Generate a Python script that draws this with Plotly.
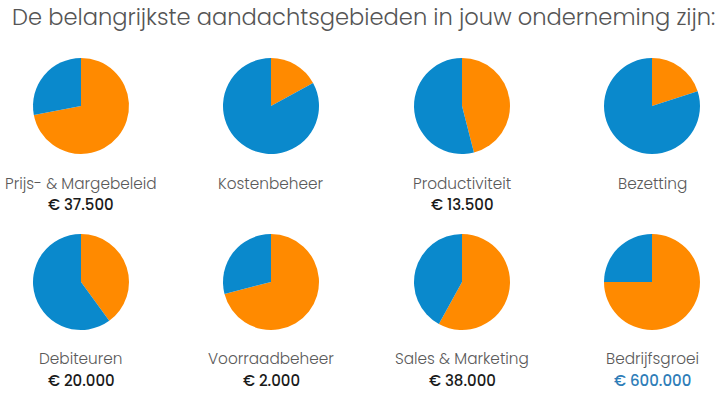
import plotly.graph_objects as go

title_text = "De belangrijkste aandachtsgebieden in jouw onderneming zijn:"
categories = ["Prijs- & Margebeleid", "Kostenbeheer", "Productiviteit", "Bezetting",
              "Debiteuren", "Voorraadbeheer", "Sales & Marketing", "Bedrijfsgroei"]
amounts = ["€ 37.500", "", "€ 13.500", "",
           "€ 20.000", "€ 2.000", "€ 38.000", "€ 600.000"]
orange_share = [72, 17, 46, 20, 40, 71, 58, 75]
blue_share = [100 - v for v in orange_share]

ORANGE = "#FF8A00"
BLUE = "#0A89CC"
W, H = 725, 394

col_x = [81, 271, 462, 652]
row_y = [106, 282]
radius = 48
label_y = [183, 358]
amount_y = [205, 380]

fig = go.Figure()
annotations = []
for i, cat in enumerate(categories):
    r, c = divmod(i, 4)
    cx, cy = col_x[c], row_y[r]
    fig.add_trace(go.Pie(
        values=[orange_share[i], blue_share[i]],
        labels=["Aandacht", "Overig"],
        marker=dict(colors=[ORANGE, BLUE], line=dict(width=0)),
        sort=False, direction="clockwise", rotation=0,
        textinfo="none", showlegend=False, hole=0,
        domain=dict(x=[(cx - radius) / W, (cx + radius) / W],
                    y=[1 - (cy + radius) / H, 1 - (cy - radius) / H]),
    ))
    annotations.append(dict(
        x=cx / W, y=1 - label_y[r] / H, xref="paper", yref="paper",
        text=cat, showarrow=False, xanchor="center", yanchor="middle",
        font=dict(family="Poppins, Lato, sans-serif", size=15.3, color="#5a5a5a", weight=300),
    ))
    if amounts[i]:
        annotations.append(dict(
            x=cx / W, y=1 - amount_y[r] / H, xref="paper", yref="paper",
            text=amounts[i], showarrow=False, xanchor="center", yanchor="middle",
            font=dict(family="Poppins, Lato, sans-serif", size=15,
                      color="#2E7DB8" if i == 7 else "#1a1a1a", weight=500),
        ))

annotations.append(dict(
    x=10 / W, y=1 - 17 / H, xref="paper", yref="paper",
    text=title_text, showarrow=False, xanchor="left", yanchor="middle",
    font=dict(family="Poppins, Lato, sans-serif", size=22.6, color="#555555", weight=300),
))

fig.update_layout(
    width=W, height=H,
    margin=dict(l=0, r=0, t=0, b=0),
    paper_bgcolor="white", plot_bgcolor="white",
    annotations=annotations,
)

fig.write_html("out.html", config={"displayModeBar": False},
               post_script="document.body.style.margin='0';document.body.style.overflow='hidden';")
